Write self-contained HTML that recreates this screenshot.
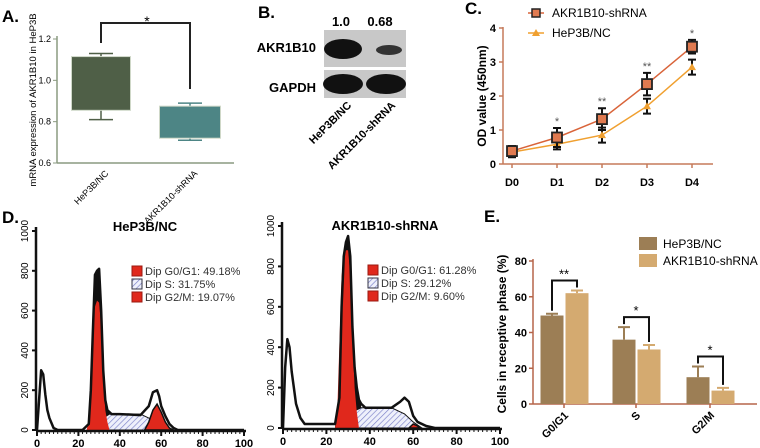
<!DOCTYPE html>
<html><head><meta charset="utf-8"><style>
html,body{margin:0;padding:0;background:#fff;}
svg{display:block;font-family:"Liberation Sans",sans-serif;}
.b{font-weight:bold;}
</style></head><body>
<svg id="fig" width="760" height="448" viewBox="0 0 760 448" xmlns="http://www.w3.org/2000/svg">
<g>
<text x="2" y="22" font-size="17" class="b">A.</text>
<text transform="translate(36,100) rotate(-90)" font-size="9.5" text-anchor="middle">mRNA expression of AKR1B10 in HeP3B</text>
<g id="axA"></g>
</g>
<g>
<text x="258" y="18" font-size="17" class="b">B.</text>
<text x="341" y="26" font-size="13" class="b" text-anchor="middle">1.0</text>
<text x="380" y="26" font-size="13" class="b" text-anchor="middle">0.68</text>
<text x="316" y="52" font-size="13" class="b" text-anchor="end">AKR1B10</text>
<text x="316" y="92" font-size="13" class="b" text-anchor="end">GAPDH</text>
<rect x="324" y="30" width="82" height="37" fill="#c8c8c8"/>
<rect x="324" y="70" width="82" height="28" fill="#c8c8c8"/>
<ellipse cx="343" cy="49" rx="19" ry="10" fill="#111"/>
<ellipse cx="389" cy="50" rx="13" ry="5" fill="#333"/>
<ellipse cx="343" cy="84" rx="20" ry="10" fill="#111"/>
<ellipse cx="386" cy="84" rx="20" ry="10" fill="#111"/>
<text transform="translate(352,106) rotate(-45)" font-size="11" class="b" text-anchor="end">HeP3B/NC</text>
<text transform="translate(396,106) rotate(-45)" font-size="11" class="b" text-anchor="end">AKR1B10-shRNA</text>
</g>
<g>
<text x="465" y="14" font-size="17" class="b">C.</text>
<text transform="translate(486,96) rotate(-90)" font-size="12" class="b" text-anchor="middle">OD value (450nm)</text>
<g id="axC"></g>
<g>
<line x1="528" y1="13" x2="544" y2="13" stroke="#d9643a" stroke-width="1.5"/>
<rect x="532" y="9" width="8" height="8" fill="#e07a50" stroke="#222" stroke-width="1.5"/>
<text x="552" y="17" font-size="12">AKR1B10-shRNA</text>
<line x1="528" y1="33" x2="544" y2="33" stroke="#f0a030" stroke-width="1.5"/>
<path d="M536,29 L540,36 L532,36 Z" fill="#f0a030"/>
<text x="552" y="37" font-size="12">HeP3B/NC</text>
</g>
</g>
<g>
<text x="2" y="223" font-size="17" class="b">D.</text>
<text x="145" y="231" font-size="13" class="b" text-anchor="middle">HeP3B/NC</text>
<text x="385" y="230" font-size="13" class="b" text-anchor="middle">AKR1B10-shRNA</text>
<g id="hL"></g>
<g id="hR"></g>
</g>
<g>
<text x="484" y="222" font-size="17" class="b">E.</text>
<text transform="translate(506,334) rotate(-90)" font-size="12" class="b" text-anchor="middle">Cells in receptive phase (%)</text>
<g id="axE"></g>
<rect x="639" y="237" width="18" height="13" fill="#9c7e55"/>
<text x="663" y="248" font-size="12">HeP3B/NC</text>
<rect x="639" y="254" width="18" height="13" fill="#d4aa70"/>
<text x="663" y="265" font-size="12">AKR1B10-shRNA</text>
</g>
</svg>
<script>
const NS="http://www.w3.org/2000/svg";
function mk(p,tag,at){const e=document.createElementNS(NS,tag);for(const k in at)e.setAttribute(k,at[k]);p.appendChild(e);return e;}
function tx(p,x,y,s,at){const e=mk(p,'text',Object.assign({x:x,y:y},at||{}));e.textContent=s;return e;}

const aGroups=["HeP3B/NC","AKR1B10-shRNA"];
const aMin=[0.81,0.71];
const aQ1=[0.855,0.72];
const aQ3=[1.115,0.875];
const aMax=[1.13,0.89];
const aTicks=[0.6,0.8,1.0,1.2];
const cDays=["D0","D1","D2","D3","D4"];
const cShrna=[0.38,0.78,1.32,2.35,3.45];
const cShrnaErr=[0.15,0.28,0.32,0.33,0.2];
const cNc=[0.35,0.58,0.85,1.7,2.85];
const cNcErr=[0.15,0.15,0.22,0.22,0.22];
const cStars=["","*","**","**","*"];
const cTicks=[0,1,2,3,4];
const dNcOutline=[[0,0],[1,150],[2,300],[3,280],[4,180],[5,100],[6,60],[8,10],[10,0],[22,0],[25,30],[26,200],[27,500],[28,780],[29,800],[30,810],[31,600],[32,300],[33,150],[34,100],[36,80],[40,80],[50,75],[54,120],[56,190],[58,200],[59,170],[60,120],[62,70],[64,30],[66,10],[68,0],[100,0]];
const dNcG1=[[24,0],[25,60],[26,300],[27,560],[28,620],[29,650],[30,640],[31,520],[32,250],[33,100],[34,40],[35,0]];
const dNcS=[[28,0],[32,60],[35,80],[50,80],[56,50],[60,20],[64,0]];
const dNcG2=[[52,0],[54,40],[56,100],[58,130],[60,90],[62,40],[64,10],[66,0]];
const dShOutline=[[0,0],[1,300],[2,440],[3,400],[4,280],[5,200],[6,120],[8,50],[10,20],[24,20],[26,150],[27,600],[28,850],[29,920],[30,950],[31,850],[32,500],[33,300],[34,200],[35,140],[36,120],[38,100],[50,100],[54,130],[56,150],[58,130],[60,60],[62,30],[66,10],[70,0],[100,0]];
const dShG1=[[24,0],[25,80],[26,420],[27,750],[28,860],[29,880],[30,880],[31,760],[32,450],[33,200],[34,80],[35,0]];
const dShS=[[27,0],[32,80],[36,100],[50,100],[56,70],[60,30],[64,0]];
const dShG2=[[58,0],[60,20],[62,10],[63,0]];
const dNcLegend=["Dip G0/G1: 49.18%","Dip S: 31.75%","Dip G2/M:  19.07%"];
const dShLegend=["Dip G0/G1: 61.28%","Dip S: 29.12%","Dip G2/M:  9.60%"];
const dXTicks=[0,20,40,60,80,100];
const dYTicks=[0,200,400,600,800,1000];
const ePhases=["G0/G1","S","G2/M"];
const eNc=[49.5,36,15];
const eNcErr=[1,7,6];
const eSh=[62,30.5,7.5];
const eShErr=[1.5,2.5,1.5];
const eStars=["**","*","*"];
const eTicks=[0,20,40,60,80];

(function(){
 const g=document.getElementById('axA');
 const y=v=>163-(v-0.6)/0.6*124;
 const xs=[101,190], w=[59,61], col=["#4f5f47","#4d8585"];
 mk(g,'line',{x1:57,y1:36,x2:57,y2:163,stroke:"#8a9a80","stroke-width":1.5});
 mk(g,'line',{x1:57,y1:163,x2:234,y2:163,stroke:"#8a9a80","stroke-width":1.5});
 aTicks.forEach(t=>{mk(g,'line',{x1:53,y1:y(t),x2:57,y2:y(t),stroke:"#8a9a80"});
  const l=tx(g,51,y(t)+3,t.toFixed(1),{"font-size":9,"text-anchor":"end"});
  
  });
 aGroups.forEach((n,i)=>{
  const cx=xs[i];
  mk(g,'line',{x1:cx,y1:y(aMax[i]),x2:cx,y2:y(aMin[i]),stroke:col[i],"stroke-width":1.5});
  mk(g,'line',{x1:cx-12,y1:y(aMax[i]),x2:cx+12,y2:y(aMax[i]),stroke:col[i],"stroke-width":1.5});
  mk(g,'line',{x1:cx-12,y1:y(aMin[i]),x2:cx+12,y2:y(aMin[i]),stroke:col[i],"stroke-width":1.5});
  const r=mk(g,'rect',{x:cx-w[i]/2,y:y(aQ3[i]),width:w[i],height:y(aQ1[i])-y(aQ3[i]),fill:col[i],stroke:"#cfd8c8"});
  
  
  const l=tx(g,0,0,n,{"font-size":9,"text-anchor":"end",transform:`translate(${cx+8},${174}) rotate(-45)`});
  
  
 });
 mk(g,'path',{d:`M101,43 V23 H190 V89`,fill:"none",stroke:"#222","stroke-width":2});
 tx(g,147,26,"*",{"font-size":14,"text-anchor":"middle"});
})();

(function(){
 const g=document.getElementById('axC');
 const ac="#c57a5a";
 const x=i=>512+i*45, y=v=>164-v*34;
 mk(g,'line',{x1:503,y1:27,x2:503,y2:164,stroke:ac,"stroke-width":1.5});
 mk(g,'line',{x1:503,y1:164,x2:713,y2:164,stroke:ac,"stroke-width":1.5});
 cTicks.forEach(t=>{mk(g,'line',{x1:499,y1:y(t),x2:503,y2:y(t),stroke:ac,"stroke-width":1.5});
  const l=tx(g,496,y(t)+4,String(t),{"font-size":11,"class":"b","text-anchor":"end"});
  
  });
 cDays.forEach((d,i)=>{mk(g,'line',{x1:x(i),y1:164,x2:x(i),y2:168,stroke:ac,"stroke-width":1.5});
  const l=tx(g,x(i),186,d,{"font-size":11,"class":"b","text-anchor":"middle"});
  
  });
 function series(vals,err,color,isSq){
  mk(g,'polyline',{points:vals.map((v,i)=>x(i)+","+y(v)).join(" "),fill:"none",stroke:color,"stroke-width":1.5});
  vals.forEach((v,i)=>{
   mk(g,'path',{d:`M${x(i)},${y(v+err[i])}V${y(v-err[i])}M${x(i)-4},${y(v+err[i])}h8M${x(i)-4},${y(v-err[i])}h8`,stroke:"#111","stroke-width":2,fill:"none"});
   let m;
   if(isSq){m=mk(g,'rect',{x:x(i)-5,y:y(v)-5,width:10,height:10,fill:"#e07a50",stroke:"#222","stroke-width":1.8});}
   else{m=mk(g,'path',{d:`M${x(i)},${y(v)-4}L${x(i)+4},${y(v)+3}L${x(i)-4},${y(v)+3}Z`,fill:color});}
   
   
  });
 }
 series(cNc,cNcErr,"#f0a030",false);
 series(cShrna,cShrnaErr,"#d9643a",true);
 cStars.forEach((s,i)=>{if(s)tx(g,x(i),y(cShrna[i]+cShrnaErr[i])-3,s,{"font-size":11,"text-anchor":"middle",fill:"#555"});});
})();

function hist(id,x0,x1,yb,yt,outline,g1,s,g2,legend,lx,ly){
 const g=document.getElementById(id);
 const x=c=>x0+c/100*(x1-x0), y=v=>yb-v/1000*(yb-yt);
 const defs=mk(g,'defs',{});
 const pat=mk(defs,'pattern',{id:id+"p",width:4,height:4,patternUnits:"userSpaceOnUse",patternTransform:"rotate(45)"});
 mk(pat,'rect',{width:4,height:4,fill:"#eef0fb"});
 mk(pat,'line',{x1:0,y1:0,x2:0,y2:4,stroke:"#7a80c8","stroke-width":1.3});
 const pts=a=>a.map(p=>x(p[0])+","+y(p[1])).join(" ");
 const env=outline.filter(p=>p[0]>=24&&p[0]<=36);
 mk(g,'polygon',{points:pts([[24,0]].concat(env,[[36,0]])),fill:"#111"});
 const sp=mk(g,'polygon',{points:pts(s),fill:"url(#"+id+"p)",stroke:"#111","stroke-width":1});
 
 
 const a=mk(g,'polygon',{points:pts(g1),fill:"#e0281c"});
 
 
 const b=mk(g,'polygon',{points:pts(g2),fill:"#e0281c",stroke:"#111","stroke-width":1.5});
 
 
 const o=mk(g,'polyline',{points:pts(outline),fill:"none",stroke:"#111","stroke-width":2.5,"stroke-linejoin":"round"});
 
 
 mk(g,'line',{x1:x0-1,y1:yt-4,x2:x0-1,y2:yb+1,stroke:"#111","stroke-width":2.5});
 mk(g,'line',{x1:x0-1,y1:yb+1,x2:x1+2,y2:yb+1,stroke:"#111","stroke-width":2.5});
 dYTicks.forEach(t=>{mk(g,'line',{x1:x0-5,y1:y(t),x2:x0,y2:y(t),stroke:"#111","stroke-width":2});
  const l=tx(g,0,0,String(t),{"font-size":10,"text-anchor":"middle",transform:`translate(${x0-9},${y(t)}) rotate(-90)`});
  
  });
 for(let c=0;c<=100;c+=2){mk(g,'line',{x1:x(c),y1:yb+1,x2:x(c),y2:yb+(c%20?4:6),stroke:"#111","stroke-width":c%20?1:2});}
 dXTicks.forEach(t=>{const l=tx(g,x(t),yb+17,String(t),{"font-size":11,"class":"b","text-anchor":"middle"});
  
  });
 legend.forEach((s,i)=>{
  const yy=ly+i*13;
  mk(g,'rect',{x:lx,y:yy-9,width:10,height:10,fill:i==1?"url(#"+id+"p)":"#e0281c",stroke:i==1?"#334":"#9a1a10","stroke-width":1});
  const l=tx(g,lx+13,yy,s,{"font-size":11,fill:"#333"});
  
  
 });
}
hist('hL',37,244,430,231,dNcOutline,dNcG1,dNcS,dNcG2,dNcLegend,132,275);
hist('hR',283,500,428,226,dShOutline,dShG1,dShS,dShG2,dShLegend,368,274);

(function(){
 const g=document.getElementById('axE');
 const ac="#b5654a";
 const y=v=>404-v/80*143;
 const gx=[563,635,709], bw=23;
 mk(g,'line',{x1:533,y1:259,x2:533,y2:404,stroke:ac,"stroke-width":1.5});
 mk(g,'line',{x1:533,y1:404,x2:757,y2:404,stroke:ac,"stroke-width":1.5});
 eTicks.forEach(t=>{mk(g,'line',{x1:529,y1:y(t),x2:533,y2:y(t),stroke:ac,"stroke-width":1.5});
  const l=tx(g,527,y(t)+4,String(t),{"font-size":11,"class":"b","text-anchor":"end"});
  
  });
 ePhases.forEach((p,i)=>{
  const xn=gx[i]-11, xs=gx[i]+14;
  [[xn,eNc[i],eNcErr[i],"#9c7e55"],[xs,eSh[i],eShErr[i],"#d4aa70"]].forEach((b,j)=>{
   mk(g,'path',{d:`M${b[0]},${y(b[1])}V${y(b[1]+b[2])}M${b[0]-6},${y(b[1]+b[2])}h12`,stroke:b[3],"stroke-width":2});
   const r=mk(g,'rect',{x:b[0]-bw/2,y:y(b[1]),width:bw,height:y(0)-y(b[1]),fill:b[3]});
   
   
  });
  const top=y(Math.max(eNc[i]+eNcErr[i],eSh[i]+eShErr[i]))-10;
  mk(g,'path',{d:`M${xn},${y(eNc[i]+eNcErr[i])-3}V${top}H${xs}V${y(eSh[i]+eShErr[i])-3}`,fill:"none",stroke:"#111","stroke-width":2});
  tx(g,gx[i]+1,top-2,eStars[i],{"font-size":13,"text-anchor":"middle"});
  mk(g,'line',{x1:gx[i]+1,y1:404,x2:gx[i]+1,y2:408,stroke:ac,"stroke-width":1.5});
  const l=tx(g,0,0,p,{"font-size":11,"class":"b","text-anchor":"end",transform:`translate(${gx[i]+6},${416}) rotate(-45)`});
  
  
 });
})();
</script>
</body></html>
